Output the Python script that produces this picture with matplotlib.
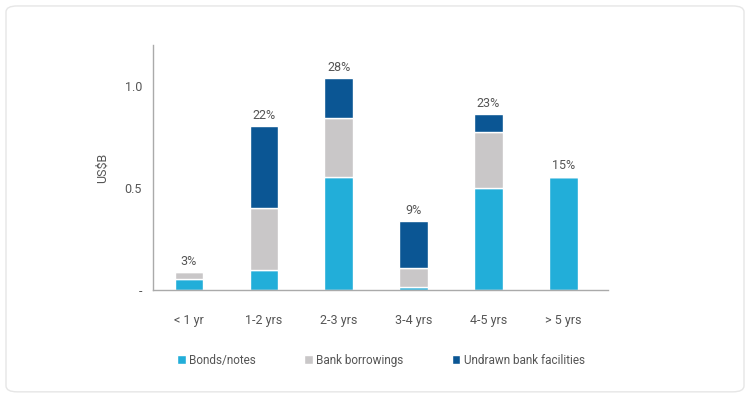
import matplotlib
matplotlib.use("Agg")
import matplotlib.pyplot as plt
from matplotlib.patches import FancyBboxPatch
import numpy as np

plt.rcParams["font.family"] = ["Roboto", "DejaVu Sans"]

categories = ["< 1 yr", "1-2 yrs", "2-3 yrs", "3-4 yrs", "4-5 yrs", "> 5 yrs"]
bonds = [0.054, 0.098, 0.556, 0.015, 0.498, 0.556]
bank_borrowings = [0.034, 0.302, 0.288, 0.092, 0.278, 0.0]
undrawn = [0.0, 0.405, 0.195, 0.230, 0.087, 0.0]
pct_labels = ["3%", "22%", "28%", "9%", "23%", "15%"]

C_BONDS = "#22aed9"
C_BANK = "#c9c7c8"
C_UNDRAWN = "#0b5694"
TXT = "#555555"

fig = plt.figure(figsize=(7.5, 3.97), dpi=100)
card = FancyBboxPatch((0.008, 0.013), 0.984, 0.972, boxstyle="round,pad=0,rounding_size=0.015",
                      transform=fig.transFigure, facecolor="white", edgecolor="#e6e6e6",
                      linewidth=1, zorder=-10)
fig.patches.append(card)

ax = fig.add_axes([0.204, 0.2695, 0.607, 0.617])
ax.patch.set_alpha(0)
x = np.arange(len(categories))
w = 0.38
b1 = np.array(bonds)
b2 = np.array(bank_borrowings)
b3 = np.array(undrawn)
ax.bar(x, b1, w, color=C_BONDS, edgecolor="white", linewidth=1, label="Bonds/notes")
ax.bar(x, b2, w, bottom=b1, color=C_BANK, edgecolor="white", linewidth=1, label="Bank borrowings")
ax.bar(x, b3, w, bottom=b1 + b2, color=C_UNDRAWN, edgecolor="white", linewidth=1,
       label="Undrawn bank facilities")

totals = b1 + b2 + b3
for xi, t, lab in zip(x, totals, pct_labels):
    ax.text(xi, t + 0.02, lab, ha="center", va="bottom", fontsize=9, color=TXT)

ax.set_xlim(-0.48, 5.6)
ax.set_ylim(0, 1.2)
ax.set_yticks([0, 0.5, 1.0])
ax.set_yticklabels(["-", "0.5", "1.0"])
ax.set_xticks(x)
ax.set_xticklabels(categories)
ax.tick_params(length=0, labelsize=9, colors=TXT)
ax.tick_params(axis="x", pad=17)
ax.tick_params(axis="y", pad=8)
ax.set_ylabel("US$B", fontsize=9, color=TXT, labelpad=11)
for s in ["top", "right"]:
    ax.spines[s].set_visible(False)
for s in ["left", "bottom"]:
    ax.spines[s].set_color("#aaaaaa")
    ax.spines[s].set_linewidth(1)

fig.legend(loc="center", bbox_to_anchor=(0.508, 0.093), ncol=3, frameon=False,
           fontsize=8.5, handlelength=0.7, handleheight=0.7, handletextpad=0.3,
           columnspacing=4.1, labelcolor=TXT)

fig.savefig("out.png", dpi=100, facecolor="white")
